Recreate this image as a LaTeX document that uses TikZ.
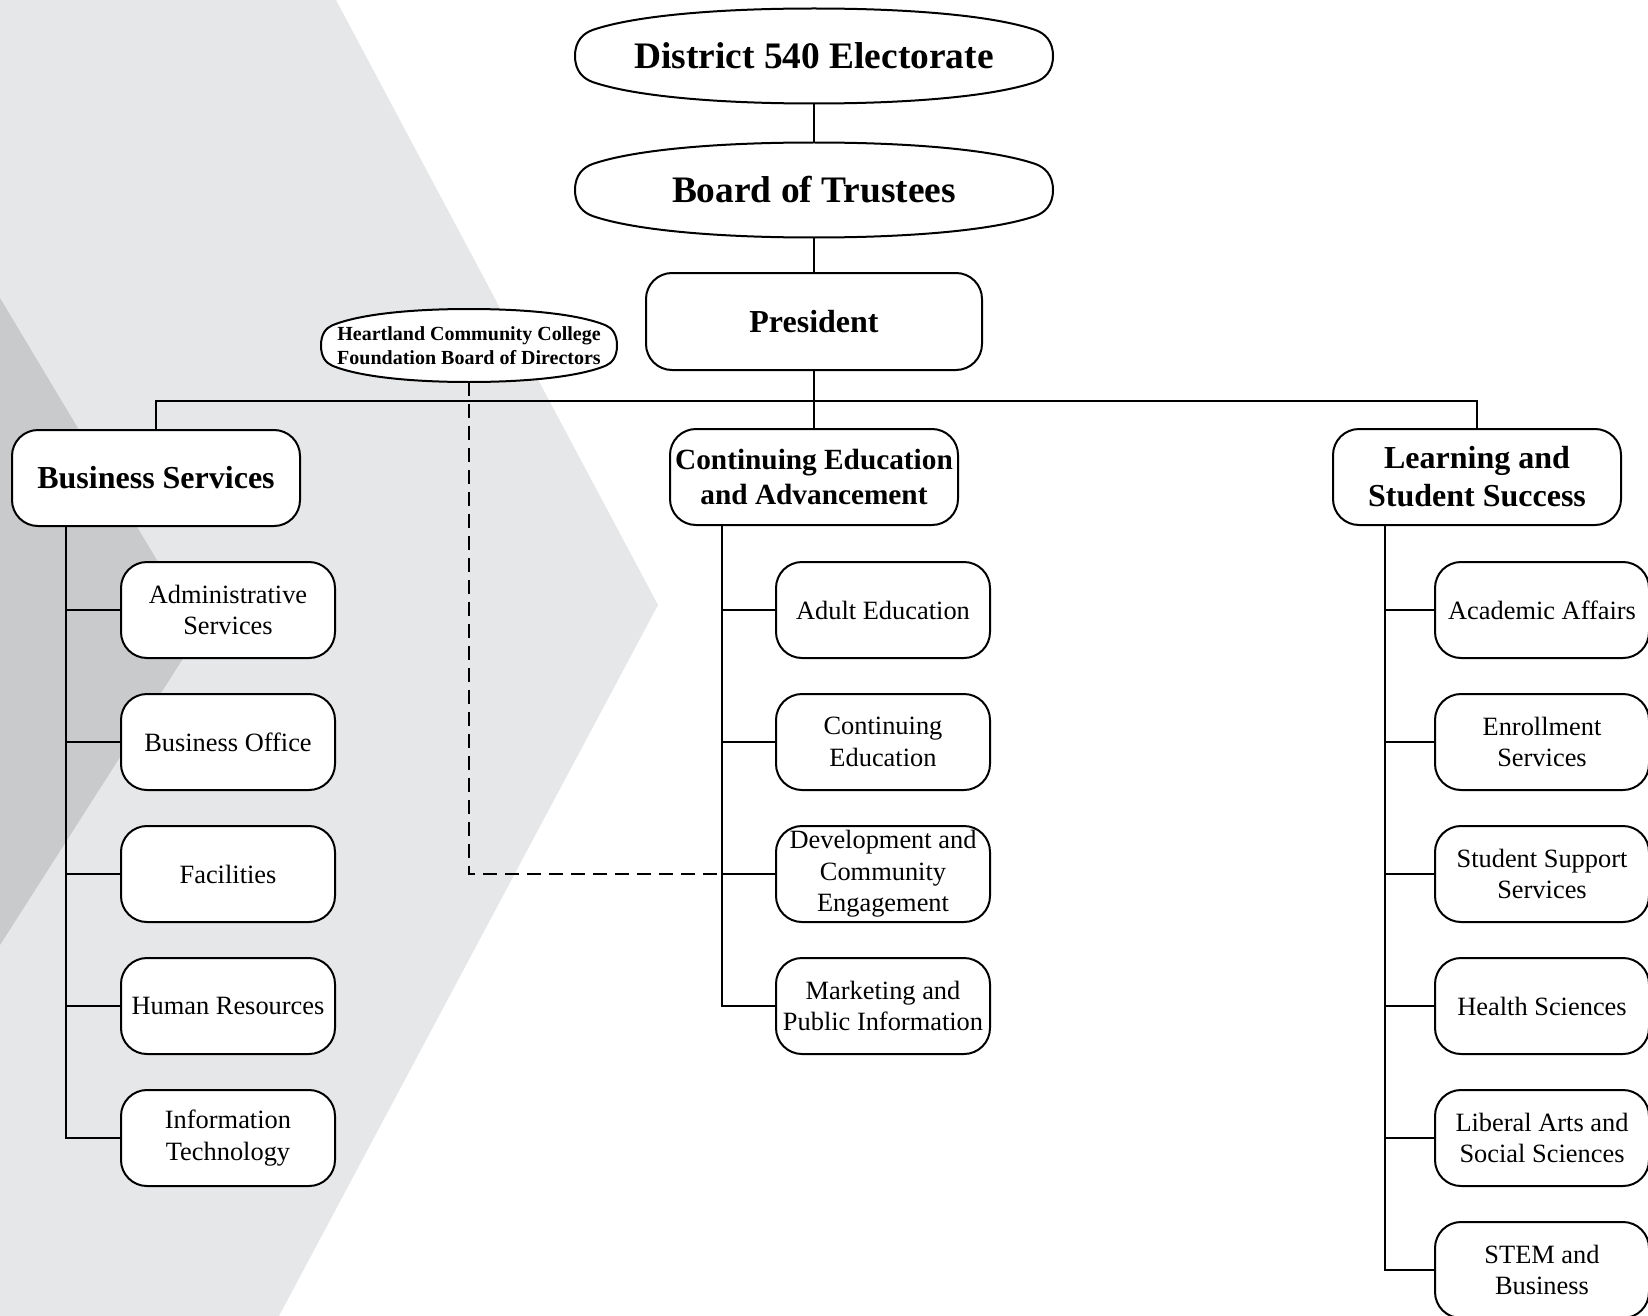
\documentclass[tikz,border=0pt]{standalone}
\usepackage{fontspec}
\setmainfont{Liberation Serif}
\definecolor{bglight}{RGB}{230,231,232}
\definecolor{bgdark}{RGB}{201,202,204}
\newcommand{\ovaloutline}[3]{\draw[line width=2pt, fill=white, shift={#1}] (-#2,0) .. controls (-#2,{0.32*#3}) and ({-0.965*#2},{0.48*#3}) .. ({-0.925*#2},{0.55*#3}) .. controls ({-0.75*#2},{0.85*#3}) and ({-0.4*#2},#3) .. (0,#3) .. controls ({0.4*#2},#3) and ({0.75*#2},{0.85*#3}) .. ({0.925*#2},{0.55*#3}) .. controls ({0.965*#2},{0.48*#3}) and (#2,{0.32*#3}) .. (#2,0) .. controls (#2,{-0.32*#3}) and ({0.965*#2},{-0.48*#3}) .. ({0.925*#2},{-0.55*#3}) .. controls ({0.75*#2},{-0.85*#3}) and ({0.4*#2},-#3) .. (0,-#3) .. controls ({-0.4*#2},-#3) and ({-0.75*#2},{-0.85*#3}) .. ({-0.925*#2},{-0.55*#3}) .. controls ({-0.965*#2},{-0.48*#3}) and (-#2,{-0.32*#3}) .. cycle;}

\begin{document}
\begin{tikzpicture}[x=1pt, y=-1pt, link/.style={line width=2pt}, ovaltext/.style={inner sep=0pt, align=center, font=\fontsize{37.4}{44}\selectfont\bfseries}, box/.style={draw, line width=2pt, rounded corners=26pt, fill=white, align=center, inner sep=2pt, minimum height=96pt}, head/.style={box, minimum width=288pt, font=\fontsize{32}{38}\selectfont\bfseries}, unit/.style={box, minimum width=214pt, font=\fontsize{26.4}{31.5}\selectfont}]
	\useasboundingbox (0,0) rectangle (1648,1316);
	\fill[bglight] (0,0) -- (336,0) -- (658,605) -- (279,1316) -- (0,1316) -- cycle;
	\fill[bgdark] (0,298) -- (200,632) -- (0,945) -- cycle;
	\ovaloutline{(814,56)}{239}{47.5}
	\node[ovaltext, minimum width=478pt, minimum height=95pt] (elect) at (814,56) {District 540 Electorate};
	\ovaloutline{(814,190)}{239}{47.5}
	\node[ovaltext, minimum width=478pt, minimum height=95pt] (board) at (814,190) {Board of Trustees};
	\ovaloutline{(469,345.5)}{148}{36.5}
	\node[ovaltext, minimum width=296pt, minimum height=73pt, font=\fontsize{20}{24}\selectfont\bfseries] (found) at (469,345.5) {Heartland Community College\\Foundation Board of Directors};
	\node[head, minimum width=336pt, minimum height=97pt] (pres) at (814,321.5) {President};
	\node[head] (bsvc) at (156,478) {Business Services};
	\node[head, font=\fontsize{29.3}{34.7}\selectfont\bfseries] (cont) at (814,477) {Continuing Education\\and Advancement};
	\node[head] (lss) at (1477,477) {Learning and\\Student Success};
	\foreach \n/\t [count=\i] in {adm/{Administrative\\Services}, bof/{Business Office}, fac/{Facilities}, hr/{Human Resources}, it/{Information\\Technology}} {\node[unit] (\n) at (228,{610+132*(\i-1)}) {\t};}
	\foreach \n/\t [count=\i] in {ae/{Adult Education}, ce/{Continuing\\Education}, dce/{Development and\\Community\\Engagement}, mpi/{Marketing and\\Public Information}} {\node[unit] (\n) at (883,{610+132*(\i-1)}) {\t};}
	\foreach \n/\t [count=\i] in {aa/{Academic Affairs}, es/{Enrollment\\Services}, sss/{Student Support\\Services}, hs/{Health Sciences}, lass/{Liberal Arts and\\Social Sciences}, stem/{STEM and\\Business}} {\node[unit] (\n) at (1542,{610+132*(\i-1)}) {\t};}
	\coordinate (bus) at (814,401);
	\coordinate (tl) at (66,0);
	\coordinate (tm) at (722,0);
	\coordinate (tr) at (1385,0);
	\draw[link] (elect) -- (board);
	\draw[link] (board) -- (pres);
	\draw[link] (pres) -- (cont);
	\draw[link] (bsvc.north) |- (bus) -| (lss.north);
	\foreach \u in {adm,bof,fac,hr,it} {\draw[link] (bsvc.south -| tl) |- (\u.west);}
	\foreach \u in {ae,ce,dce,mpi} {\draw[link] (cont.south -| tm) |- (\u.west);}
	\foreach \u in {aa,es,sss,hs,lass,stem} {\draw[link] (lss.south -| tr) |- (\u.west);}
	\draw[link, dash pattern=on 14pt off 8pt] (found) |- (dce.west -| tm);
\end{tikzpicture}
\end{document}
